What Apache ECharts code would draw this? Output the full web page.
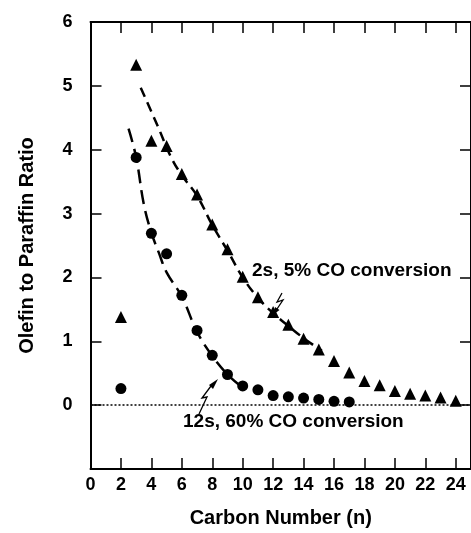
<!DOCTYPE html>
<html><head><meta charset="utf-8">
<script src="https://cdn.jsdelivr.net/npm/echarts@6/dist/echarts.min.js"></script>
<style>html,body{margin:0;padding:0;background:#fff}#c{width:471px;height:533px}</style>
</head><body><div id="c"></div>
<script>
// ---- data ----
const triN   = [2,3,4,5,6,7,8,9,10,11,12,13,14,15,16,17,18,19,20,21,22,23,24];
const triY   = [1.38,5.33,4.14,4.06,3.62,3.30,2.83,2.44,2.01,1.69,1.46,1.26,1.04,0.87,0.69,0.51,0.38,0.31,0.22,0.18,0.15,0.12,0.07];
const circN  = [2,3,4,5,6,7,8,9,10,11,12,13,14,15,16,17];
const circY  = [0.26,3.88,2.69,2.37,1.72,1.17,0.78,0.48,0.30,0.24,0.15,0.13,0.11,0.09,0.06,0.05];
const triFitN  = [3.3,4.4,5.3,6,7,8,9,10,11,12,13,14,15.2];
const triFitY  = [4.97,4.38,3.88,3.60,3.28,2.82,2.42,2.00,1.68,1.44,1.24,1.05,0.85];
const circFitN = [2.5,3,3.5,4,4.5,5,6,7,8,9,9.8];
const circFitY = [4.33,3.88,3.15,2.70,2.38,2.08,1.70,1.15,0.77,0.48,0.31];
const xTicks = [0,2,4,6,8,10,12,14,16,18,20,22,24];
const yTicks = [0,1,2,3,4,5,6];
const xTitle = 'Carbon Number (n)';
const yTitle = 'Olefin to Paraffin Ratio';
const label2s = '2s, 5% CO conversion';
const label12s = '12s, 60% CO conversion';

const pairs = (xs, ys) => xs.map((x, i) => [x, ys[i]]);
const FONT = '"Liberation Sans", Arial, Helvetica, sans-serif';
const txt = (size) => ({ fontFamily: FONT, fontWeight: 'bold', fontSize: size, color: '#000' });

const chart = echarts.init(document.getElementById('c'), null, { renderer: 'canvas' });
const axisLine = { show: true, onZero: false, lineStyle: { color: '#000', width: 2 } };
const tick = { show: true, inside: true, length: 11, lineStyle: { color: '#000', width: 1.5 } };

chart.setOption({
  animation: false,
  backgroundColor: '#fff',
  grid: { left: 90.5, top: 22, width: 382, height: 452 },
  xAxis: [
    { type: 'value', min: 0, max: 25, interval: 2, position: 'bottom',
      axisLine, axisTick: tick, splitLine: { show: false },
      axisLabel: { ...txt(18), margin: 7, showMaxLabel: false,
        formatter: v => xTicks.includes(v) ? String(v) : '' },
      name: xTitle, nameLocation: 'middle', nameGap: 39, nameTextStyle: txt(20) },
    { type: 'value', min: 0, max: 25, interval: 2, position: 'top',
      axisLine, axisTick: tick, splitLine: { show: false }, axisLabel: { show: false } }
  ],
  yAxis: [
    { type: 'value', min: -1, max: 6, interval: 1, position: 'left',
      axisLine, axisTick: tick, splitLine: { show: false },
      axisLabel: { ...txt(18), margin: 18,
        formatter: v => yTicks.includes(v) ? String(v) : '' },
      name: yTitle, nameLocation: 'middle', nameGap: 53, nameTextStyle: txt(20) },
    { type: 'value', min: -1, max: 6, interval: 1, position: 'right',
      axisLine, axisTick: tick, splitLine: { show: false }, axisLabel: { show: false } }
  ],
  series: [
    { type: 'line', data: pairs(triFitN, triFitY), showSymbol: false, smooth: 0.4,
      lineStyle: { color: '#000', width: 2.5, type: [10, 6] }, silent: true, z: 1,
      markLine: { silent: true, symbol: ['none', 'none'], label: { show: false },
        lineStyle: { color: '#000', width: 1.5, type: [2, 2] }, data: [{ yAxis: 0 }] } },
    { type: 'line', data: pairs(circFitN, circFitY), showSymbol: false, smooth: 0.4,
      lineStyle: { color: '#000', width: 2.5, type: [14, 7] }, silent: true, z: 1 },
    { type: 'scatter', data: pairs(triN, triY), symbol: 'triangle', symbolSize: 12,
      itemStyle: { color: '#000', opacity: 1 }, z: 3 },
    { type: 'scatter', data: pairs(circN, circY), symbol: 'circle', symbolSize: 11,
      itemStyle: { color: '#000', opacity: 1 }, z: 3 }
  ],
  graphic: [
    { type: 'text', left: 252, top: 261, style: { text: label2s, font: 'bold 19px ' + FONT, fill: '#000' } },
    { type: 'text', left: 183, top: 412, style: { text: label12s, font: 'bold 19px ' + FONT, fill: '#000' } },
    { type: 'polyline', shape: { points: [[282, 293], [277, 302], [283, 300], [277, 309]] },
      style: { stroke: '#000', lineWidth: 1.3, fill: null } },
    { type: 'polygon', shape: { points: [[273, 315], [275, 307], [279.5, 310]] }, style: { fill: '#000' } },
    { type: 'polyline', shape: { points: [[199, 414], [207, 397], [202, 398], [211, 386]] },
      style: { stroke: '#000', lineWidth: 1.3, fill: null } },
    { type: 'polygon', shape: { points: [[218, 379], [209, 385], [213, 389]] }, style: { fill: '#000' } }
  ]
});
</script></body></html>
